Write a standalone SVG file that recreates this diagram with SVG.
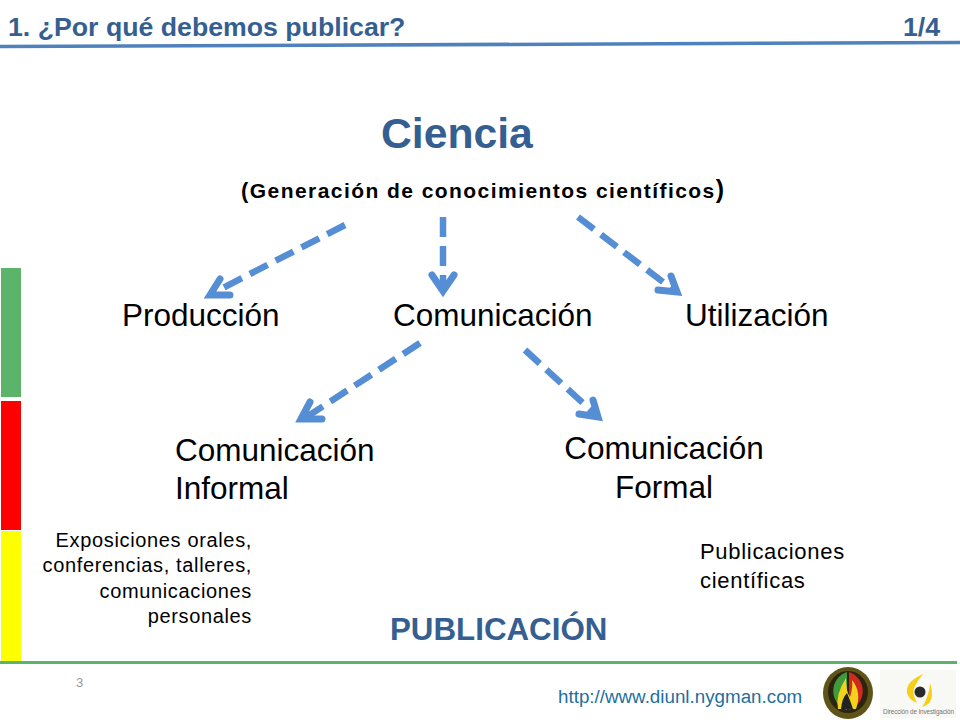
<svg xmlns="http://www.w3.org/2000/svg" width="960" height="720" viewBox="0 0 960 720">
<style>
text{font-family:"Liberation Sans",Arial,sans-serif;fill:#000}
.h{font-weight:bold;fill:#365f91}
.n{font-size:31.5px}
.s{font-size:20px;letter-spacing:.65px}
.f{font-size:22px;letter-spacing:.7px}
.d{fill:none;stroke:#558ed5;stroke-width:6.5;stroke-dasharray:20 9}
.a{fill:none;stroke:#558ed5;stroke-width:7;stroke-linecap:round;stroke-linejoin:miter}
</style>
<rect width="960" height="720" fill="#fff"/>
<g id="header">
<text class="h" x="8" y="36" font-size="26.7">1. ¿Por qué debemos publicar?</text>
<text class="h" x="903" y="36" font-size="26.7">1/4</text>
<path d="M0 46.5L960 42.5" stroke="#4f81bd" stroke-width="3.5" fill="none"/>
</g>
<g id="side-bars">
<rect x="1" y="268" width="20" height="129" fill="#5cb36a"/>
<rect x="1" y="401" width="20" height="129" fill="#ff0000"/>
<rect x="1" y="531" width="20" height="130" fill="#ffff00"/>
</g>
<g id="ciencia">
<text class="h" x="381" y="148" font-size="42.7">Ciencia</text>
<text x="241" y="198" font-size="21" font-weight="bold" textLength="483" lengthAdjust="spacing"><tspan font-size="22">(</tspan>Generación de conocimientos científicos<tspan font-size="25">)</tspan></text>
</g>
<g id="connectors">
<path class="d" d="M345 225L213 293"/>
<path class="a" d="M220 279L210 295L230 295"/>
<path class="d" d="M443 217V288"/>
<path class="a" d="M432 275L443 291L454 275"/>
<path class="d" d="M578 217L676 292"/>
<path class="a" d="M671 276L677 292L658 290"/>
<path class="d" d="M420 343L305 418"/>
<path class="a" d="M310 402L301 419L322 419"/>
<path class="d" d="M525 350L597 416"/>
<path class="a" d="M593 400L598 417L579 414"/>
</g>
<g id="produccion"><text class="n" x="122" y="326">Producción</text></g>
<g id="comunicacion"><text class="n" x="393" y="326">Comunicación</text></g>
<g id="utilizacion"><text class="n" x="685" y="326">Utilización</text></g>
<g id="com-informal">
<text class="n" x="175" y="461">Comunicación</text>
<text class="n" x="175" y="499">Informal</text>
</g>
<g id="com-formal">
<text class="n" x="664" y="459" text-anchor="middle">Comunicación</text>
<text class="n" x="664" y="498" text-anchor="middle">Formal</text>
</g>
<g id="informal-detail" text-anchor="end">
<text class="s" x="252" y="547">Exposiciones orales,</text>
<text class="s" x="252" y="572">conferencias, talleres,</text>
<text class="s" x="252" y="598">comunicaciones</text>
<text class="s" x="252" y="623">personales</text>
</g>
<g id="formal-detail">
<text class="f" x="700" y="559">Publicaciones</text>
<text class="f" x="700" y="588">científicas</text>
</g>
<g id="publicacion"><text class="h" x="390" y="640" font-size="31.3">PUBLICACIÓN</text></g>
<g id="footer">
<path d="M0 662.5H957" stroke="#5cb36a" stroke-width="3" fill="none"/>
<text x="76" y="687" font-size="13" style="fill:#999">3</text>
<text x="558" y="703" font-size="18.8" style="fill:#1f6f9f">http://www.diunl.nygman.com</text>
</g>
<g id="logo-university">
<ellipse cx="848" cy="693" rx="25" ry="26" fill="#5f5418"/>
<ellipse cx="848" cy="692" rx="20" ry="21" fill="#2b2410"/>
<path d="M847 672a20 20 0 0 0 0 38z" fill="#3f9a3a"/>
<path d="M849 672a20 20 0 0 1 0 38z" fill="#cf2a20"/>
<path d="M838 709Q835 695 846 678Q846 692 850 697Q853 688 852 680Q862 692 856 709z" fill="#f2d21a"/>
<path d="M841 709Q842 698 847 693Q850 700 853 709z" fill="#222"/>
</g>
<g id="logo-investigacion">
<rect x="880" y="670" width="76" height="48" fill="#f8f8f4"/>
<path d="M923 674Q905 682 907 693Q909 700 917 703Q911 692 915 686Q918 680 923 674z" fill="#f5cf1a"/>
<path d="M930 683Q930 690 927 697Q925 703 922 707Q932 704 932 695Q932 688 930 683z" fill="#f5cf1a"/>
<circle cx="920" cy="692" r="5.5" fill="#2a2a2a"/>
<text x="883" y="714" font-size="6.4" textLength="71" style="fill:#777">Dirección de Investigación</text>
</g>
</svg>
